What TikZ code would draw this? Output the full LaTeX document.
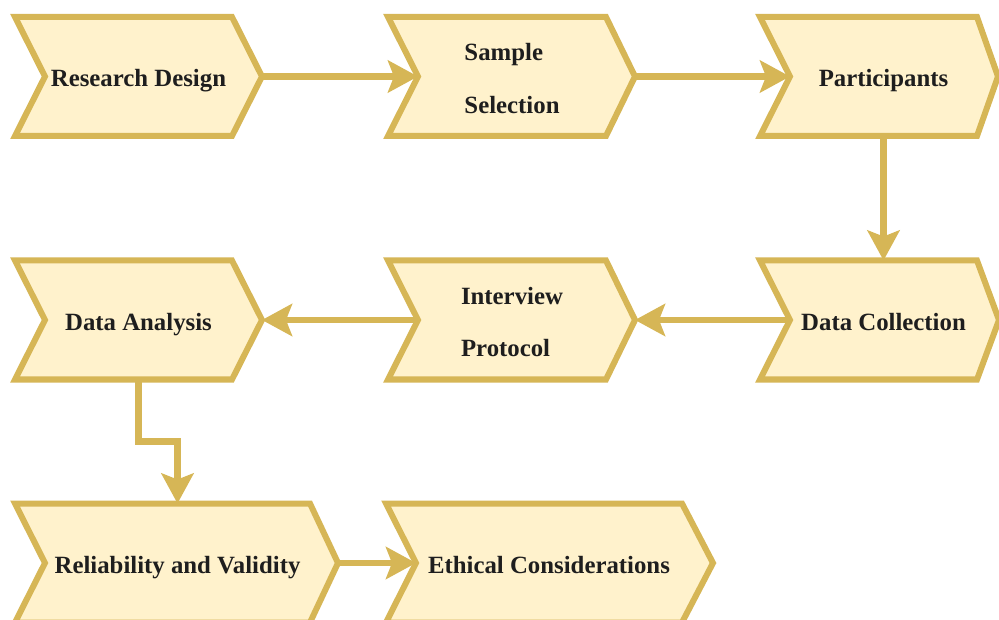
\documentclass[tikz,border=0pt]{standalone}
\usepackage{fontspec}
\setmainfont{Liberation Serif}
\usetikzlibrary{arrows.meta,calc,backgrounds}
\definecolor{chevfill}{HTML}{FFF2CC}
\definecolor{chevline}{HTML}{D6B656}
\definecolor{labeltext}{HTML}{1E1E1E}
\begin{document}
\begin{tikzpicture}[x=1pt,y=-1pt,
  body/.style={minimum height=119pt, inner sep=0pt, outer sep=0pt,
    text height=24pt, text depth=3pt,
    font=\bfseries\fontsize{24.8}{53}\selectfont, align=left, text=labeltext},
  twoline/.style={text height=77pt},
  chevron/.style={draw=chevline, fill=chevfill, line width=6pt, line join=miter},
  flow/.style={draw=chevline, line width=6.5pt,
    -{Stealth[length=30pt,width=32pt,inset=6pt]}}]
\useasboundingbox (0,0) rectangle (999,620);

% chevron bodies (between the notch and the base of the point)
\node[body, minimum width=187pt] (rd) at (138.5,76.5) {Research Design};
\node[body, twoline, minimum width=188pt] (ss) at (512,76.5) {Sample\\Selection};
\node[body, minimum width=187pt] (pa) at (883.5,76.5) {Participants};
\node[body, minimum width=187pt] (dc) at (883.5,320) {Data Collection};
\node[body, twoline, minimum width=188pt] (ip) at (512,320) {Interview\\Protocol};
\node[body, minimum width=187pt] (da) at (138.5,320) {Data Analysis};
\node[body, minimum width=265pt] (rv) at (177.5,563) {Reliability and Validity};
\node[body, minimum width=266pt] (ec) at (549,563) {Ethical Considerations};

% chevron outlines, with the depth of each point
\begin{scope}[on background layer]
  \foreach \n/\p in {rd/30,ss/29,pa/21,dc/22,ip/29,da/30,rv/28,ec/31}{
    \coordinate (\n-tip) at ($(\n.east)+(\p,0)$);
    \draw[chevron] ($(\n.north west)+(-30,0)$) -- (\n.north east) -- (\n-tip)
      -- (\n.south east) -- ($(\n.south west)+(-30,0)$) -- (\n.west) -- cycle;
  }
\end{scope}

% connectors
\draw[flow] (rd-tip) -- (ss.west);
\draw[flow] (ss-tip) -- (pa.west);
\draw[flow] (pa.south) -- (dc.north);
\draw[flow] (dc.west) -- (ip-tip);
\draw[flow] (ip.west) -- (da-tip);
\draw[flow] (da.south) -- ++(0,62) -| (rv.north);
\draw[flow] (rv-tip) -- (ec.west);
\end{tikzpicture}
\end{document}
